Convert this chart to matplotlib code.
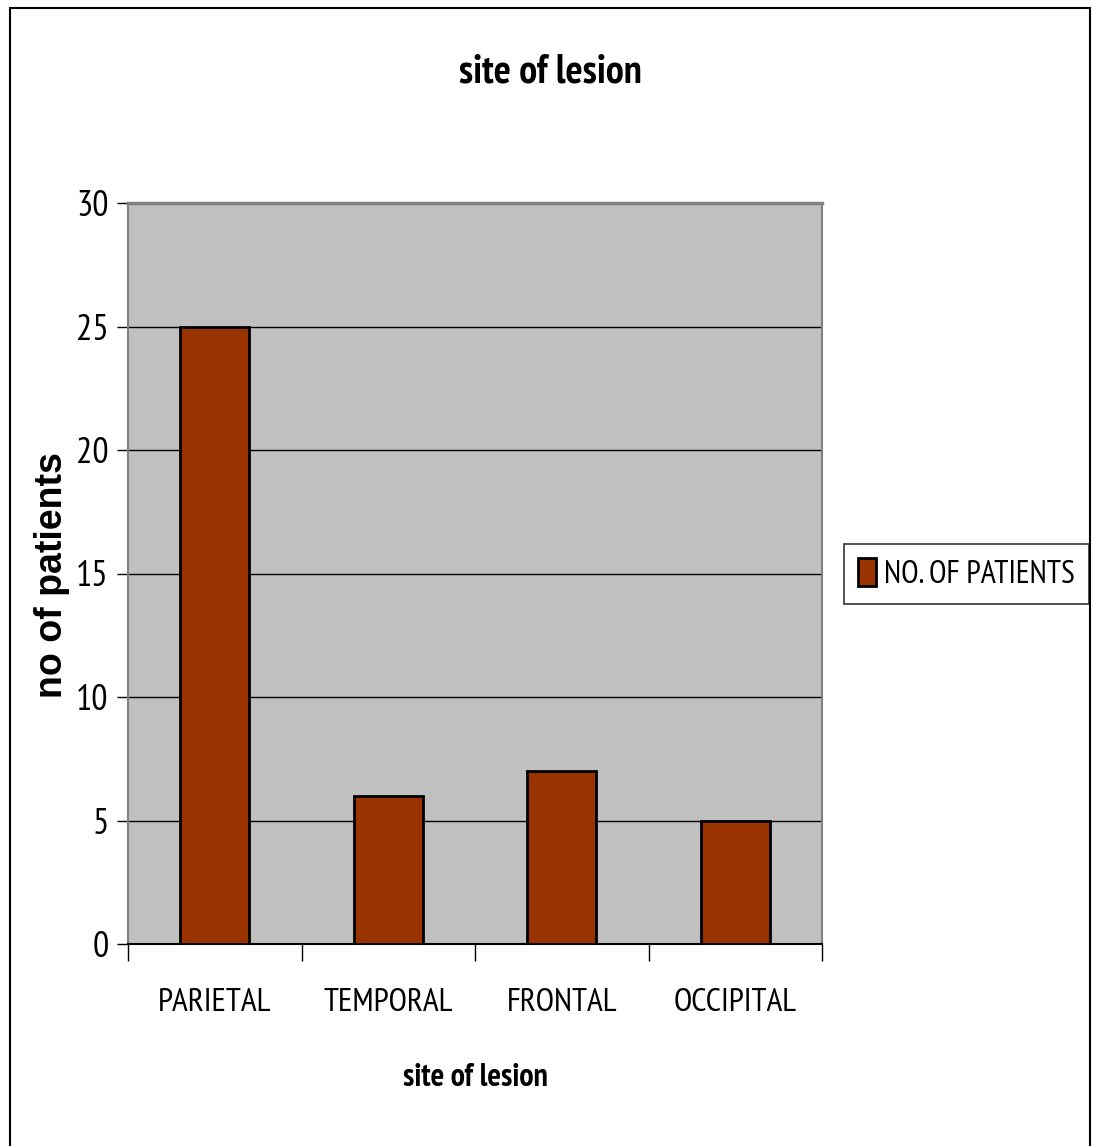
import matplotlib
matplotlib.use("Agg")
import matplotlib.pyplot as plt
import matplotlib.patches as patches
from matplotlib import font_manager
from matplotlib.font_manager import FontProperties
from matplotlib.ticker import FixedLocator, NullFormatter

# data
sites = ["PARIETAL", "TEMPORAL", "FRONTAL", "OCCIPITAL"]
patients = [25, 6, 7, 5]
y_ticks = [0, 5, 10, 15, 20, 25, 30]


def narrow_files():
    """Pick upright regular + bold files of a narrow face (Arial Narrow look)."""
    faces = {}
    for f in font_manager.fontManager.ttflist:
        if f.style != "normal":
            continue
        is_narrow = ("Narrow" in f.name or f.name.endswith("Condensed")
                     or f.stretch in ("condensed", "semi-condensed"))
        if not is_narrow or "Extra" in f.name or "Ultra" in f.name:
            continue
        w = f.weight if isinstance(f.weight, int) else 400
        faces.setdefault(f.name, {}).setdefault(w, f.fname)
    ranked = sorted(faces, key=lambda n: (0 if "Narrow" in n else 1,
                                          0 if (400 in faces[n] and 700 in faces[n]) else 1, n))
    for n in ranked:
        ws = faces[n]
        reg = ws.get(400) or ws[min(ws, key=lambda w: abs(w - 400))]
        bold = ws.get(700) or ws[min(ws, key=lambda w: abs(w - 700))]
        return reg, bold
    return None, None


reg_file, bold_file = narrow_files()


def fp(size, bold=False):
    f = bold_file if bold else reg_file
    if f:
        return FontProperties(fname=f, size=size)
    return FontProperties(family="Liberation Sans", size=size,
                          weight="bold" if bold else "normal")


bar_color = "#993300"

fig = plt.figure(figsize=(10.93, 11.46), dpi=100)
ax = fig.add_axes([128 / 1093, 202 / 1146, 694 / 1093, 741 / 1146])
ax.set_facecolor("#c0c0c0")

x = list(range(len(sites)))
ax.bar(x, patients, width=0.40, color=bar_color, edgecolor="black", linewidth=2,
       label="NO. OF PATIENTS", zorder=3)

ax.set_xlim(-0.5, len(sites) - 0.5)
ax.set_ylim(0, 30)

for v in y_ticks[1:-1]:
    ax.axhline(v, color="black", lw=1, zorder=1)

ax.set_yticks(y_ticks)
ax.set_yticklabels([str(v) for v in y_ticks], fontproperties=fp(26))
ax.tick_params(axis="y", length=8, width=1, pad=6, colors="black")

ax.set_xticks(x)
ax.set_xticklabels(sites, fontproperties=fp(24))
ax.tick_params(axis="x", which="major", length=0, pad=32)
ax.xaxis.set_minor_locator(FixedLocator([i - 0.5 for i in range(len(sites) + 1)]))
ax.xaxis.set_minor_formatter(NullFormatter())
ax.tick_params(axis="x", which="minor", length=12, width=1, color="black")

for s in ["top", "right", "left"]:
    ax.spines[s].set_color("#808080")
ax.spines["top"].set_linewidth(2.5)
ax.spines["right"].set_linewidth(1.5)
ax.spines["left"].set_linewidth(1.5)
ax.spines["bottom"].set_color("black")
ax.spines["bottom"].set_linewidth(1.5)

ax.set_xlabel("site of lesion", fontproperties=fp(23, bold=True))
ax.xaxis.set_label_coords(0.5, (944 - 1078) / 741)
ax.xaxis.label.set_va("center")
ax.set_ylabel("no of patients", family="Liberation Sans", fontsize=27, fontweight="bold")
ax.yaxis.set_label_coords((52 - 128) / 694, (944 - 575) / 741)
ax.yaxis.label.set_va("center")

fig.text(550 / 1093, 1 - 72 / 1146, "site of lesion", fontproperties=fp(29, bold=True),
         ha="center", va="center")

leg = fig.legend(*ax.get_legend_handles_labels(), loc="center left",
                 bbox_to_anchor=(844 / 1093, 1 - 574 / 1146), prop=fp(23),
                 frameon=True, fancybox=False, edgecolor="black",
                 handlelength=0.55, handleheight=1.0, handletextpad=0.25,
                 borderpad=0.45, borderaxespad=0)
leg.get_frame().set_linewidth(1.2)

# outer chart border
fig.patches.append(patches.Rectangle((10 / 1093, -0.05), 1080 / 1093, 1.05 - 8 / 1146,
                                     transform=fig.transFigure, fill=False,
                                     edgecolor="black", lw=1.5))

fig.savefig("out.png", dpi=100)
